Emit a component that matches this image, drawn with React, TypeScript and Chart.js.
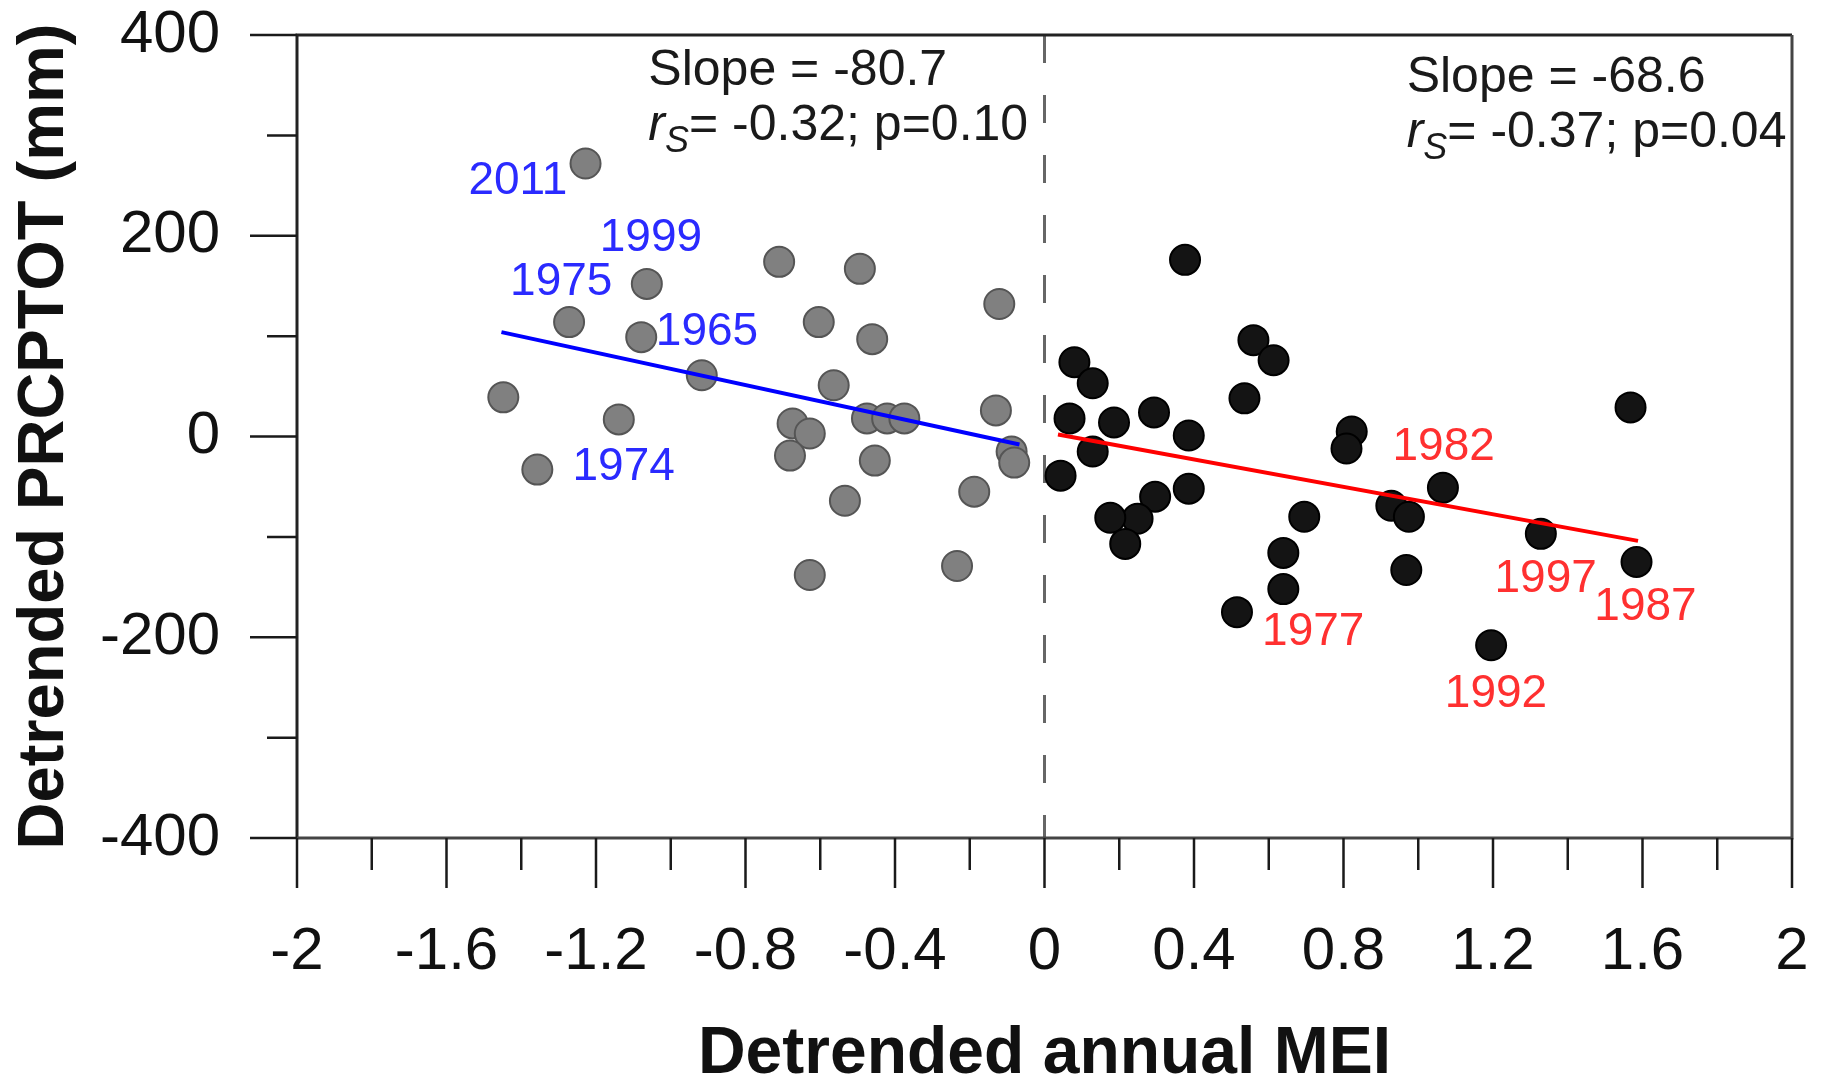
import React, { useEffect, useRef } from "react";
import { Chart, registerables } from "chart.js";

Chart.register(...registerables);

// ---- axis ticks ----
const X_TICKS = [-2, -1.6, -1.2, -0.8, -0.4, 0, 0.4, 0.8, 1.2, 1.6, 2];
const X_TICK_LABELS = ["-2", "-1.6", "-1.2", "-0.8", "-0.4", "0", "0.4", "0.8", "1.2", "1.6", "2"];
const X_MINOR_TICKS = [-1.8, -1.4, -1.0, -0.6, -0.2, 0.2, 0.6, 1.0, 1.4, 1.8];
const Y_TICKS = [-400, -200, 0, 200, 400];
const Y_TICK_LABELS = ["-400", "-200", "0", "200", "400"];
const Y_MINOR_TICKS = [-300, -100, 100, 300];

const X_TITLE = "Detrended annual MEI";
const Y_TITLE = "Detrended PRCPTOT (mm)";

// ---- La Niña side (grey points) ----
const NEG_MEI = [
  -1.228, -0.71, -0.494, -1.064, -0.121, -1.272, -0.604, -1.079, -0.461, -0.917,
  -0.564, -1.448, -0.13, -1.139, -0.475, -0.421, -0.375, -0.674, -0.628, -0.681,
  -0.454, -1.357, -0.088, -0.081, -0.534, -0.188, -0.628, -0.234,
];
const NEG_PRCP = [
  272, 174, 167, 152, 132, 114, 114, 99, 97, 61,
  51, 39, 26, 17, 18, 18, 18, 13, 3, -19,
  -24, -33, -15, -26, -64, -55, -138, -129,
];

// ---- El Niño side (black points) ----
const POS_MEI = [
  0.376, 0.559, 0.613, 0.08, 0.129, 0.535, 1.568, 0.293, 0.067, 0.186,
  0.386, 0.822, 0.808, 0.129, 0.043, 1.066, 0.386, 0.296, 0.249, 0.176,
  0.216, 0.695, 0.639, 0.639, 0.515, 0.928, 0.975, 0.968, 1.328, 1.584, 1.195,
];
const POS_PRCP = [
  176, 96, 76, 74, 53, 38, 29, 24, 18, 14,
  1, 5, -12, -15, -39, -51, -52, -60, -82, -81,
  -107, -80, -116, -152, -175, -69, -80, -133, -97, -125, -208,
];

// ---- regression lines ----
const NEG_FIT_MEI = [-1.453, -0.067];
const NEG_FIT_PRCP = [104, -8];
const POS_FIT_MEI = [0.036, 1.588];
const POS_FIT_PRCP = [2, -104];

const DIVIDER_MEI = 0;

// ---- year labels ----
const NEG_YEARS = ["2011", "1999", "1975", "1965", "1974"];
const NEG_YEAR_MEI = [-1.409, -1.053, -1.293, -0.903, -1.126];
const NEG_YEAR_PRCP = [254, 197, 154, 104, -31];
const POS_YEARS = ["1982", "1977", "1997", "1987", "1992"];
const POS_YEAR_MEI = [1.068, 0.719, 1.341, 1.608, 1.208];
const POS_YEAR_PRCP = [-11, -195, -142, -170, -257];

// ---- statistics text ----
const STAT_SLOPES = ["Slope = -80.7", "Slope = -68.6"];
const STAT_RS = ["= -0.32; p=0.10", "= -0.37; p=0.04"];
const STAT_MEI = [-1.06, 0.969];
const STAT_PRCP_LINE1 = [350, 343];
const STAT_PRCP_LINE2 = [295, 288];

const FONT = "'Liberation Sans', Arial, Helvetica, sans-serif";

const decorPlugin = {
  id: "decor",
  beforeDatasetsDraw(chart: any) {
    const { ctx, chartArea: a, scales } = chart;
    const px = scales.x.getPixelForValue(DIVIDER_MEI);
    ctx.save();
    ctx.strokeStyle = "#666666";
    ctx.lineWidth = 3;
    ctx.setLineDash([28, 32]);
    ctx.beginPath();
    ctx.moveTo(px, a.top);
    ctx.lineTo(px, a.bottom);
    ctx.stroke();
    ctx.restore();
  },
  afterDatasetsDraw(chart: any) {
    const { ctx, scales } = chart;
    const { x, y } = scales;
    ctx.save();
    ctx.textAlign = "center";
    ctx.textBaseline = "middle";
    ctx.font = `46px ${FONT}`;
    ctx.fillStyle = "#2a2aff";
    NEG_YEARS.forEach((t, i) => {
      ctx.fillText(t, x.getPixelForValue(NEG_YEAR_MEI[i]), y.getPixelForValue(NEG_YEAR_PRCP[i]));
    });
    ctx.fillStyle = "#ff3030";
    POS_YEARS.forEach((t, i) => {
      ctx.fillText(t, x.getPixelForValue(POS_YEAR_MEI[i]), y.getPixelForValue(POS_YEAR_PRCP[i]));
    });

    // stats
    ctx.textAlign = "left";
    ctx.textBaseline = "alphabetic";
    ctx.fillStyle = "#1a1a1a";
    STAT_SLOPES.forEach((t, i) => {
      const sx = x.getPixelForValue(STAT_MEI[i]);
      ctx.font = `50px ${FONT}`;
      ctx.fillText(t, sx, y.getPixelForValue(STAT_PRCP_LINE1[i]));
      const by = y.getPixelForValue(STAT_PRCP_LINE2[i]);
      ctx.font = `italic 50px ${FONT}`;
      ctx.fillText("r", sx, by);
      let cx = sx + ctx.measureText("r").width;
      ctx.font = `italic 36px ${FONT}`;
      ctx.fillText("S", cx, by + 12);
      cx += ctx.measureText("S").width;
      ctx.font = `50px ${FONT}`;
      ctx.fillText(STAT_RS[i], cx, by);
    });
    ctx.restore();
  },
  afterDraw(chart: any) {
    const { ctx, chartArea: a, scales } = chart;
    const { x, y } = scales;
    ctx.save();
    ctx.lineCap = "butt";
    // frame
    ctx.strokeStyle = "#222222";
    ctx.lineWidth = 3;
    ctx.beginPath();
    ctx.moveTo(a.left, a.bottom);
    ctx.lineTo(a.left, a.top);
    ctx.lineTo(a.right, a.top);
    ctx.stroke();
    ctx.strokeStyle = "#444444";
    ctx.beginPath();
    ctx.moveTo(a.right, a.top);
    ctx.lineTo(a.right, a.bottom);
    ctx.lineTo(a.left, a.bottom);
    ctx.stroke();
    // ticks
    ctx.strokeStyle = "#1a1a1a";
    ctx.lineWidth = 2.5;
    ctx.beginPath();
    X_TICKS.forEach((v) => {
      const p = x.getPixelForValue(v);
      ctx.moveTo(p, a.bottom);
      ctx.lineTo(p, a.bottom + 50);
    });
    X_MINOR_TICKS.forEach((v) => {
      const p = x.getPixelForValue(v);
      ctx.moveTo(p, a.bottom);
      ctx.lineTo(p, a.bottom + 32);
    });
    Y_TICKS.forEach((v) => {
      const p = y.getPixelForValue(v);
      ctx.moveTo(a.left, p);
      ctx.lineTo(a.left - 47, p);
    });
    Y_MINOR_TICKS.forEach((v) => {
      const p = y.getPixelForValue(v);
      ctx.moveTo(a.left, p);
      ctx.lineTo(a.left - 30, p);
    });
    ctx.stroke();
    ctx.restore();
  },
};

const zeroPad = (s: any) => {
  s.paddingLeft = 0;
  s.paddingRight = 0;
  s.paddingTop = 0;
  s.paddingBottom = 0;
};

export default function App() {
  const ref = useRef<HTMLCanvasElement | null>(null);

  useEffect(() => {
    if (!ref.current) return;
    const toPts = (xs: number[], ys: number[]) => xs.map((v, i) => ({ x: v, y: ys[i] }));
    const chart = new Chart(ref.current, {
      type: "scatter",
      data: {
        datasets: [
          {
            label: "fit-neg",
            data: toPts(NEG_FIT_MEI, NEG_FIT_PRCP),
            showLine: true,
            borderColor: "#0000ff",
            borderWidth: 4,
            pointRadius: 0,
          },
          {
            label: "fit-pos",
            data: toPts(POS_FIT_MEI, POS_FIT_PRCP),
            showLine: true,
            borderColor: "#ff0000",
            borderWidth: 4,
            pointRadius: 0,
          },
          {
            label: "La Niña",
            data: toPts(NEG_MEI, NEG_PRCP),
            backgroundColor: "#808080",
            borderColor: "#555555",
            borderWidth: 2,
            pointRadius: 15,
          },
          {
            label: "El Niño",
            data: toPts(POS_MEI, POS_PRCP),
            backgroundColor: "#141414",
            borderColor: "#000000",
            borderWidth: 2,
            pointRadius: 15,
          },
        ],
      },
      options: {
        responsive: false,
        animation: false,
        devicePixelRatio: 1,
        events: [],
        layout: { padding: { top: 35, right: 33, left: 0, bottom: 0 } },
        plugins: { legend: { display: false }, tooltip: { enabled: false } },
        scales: {
          x: {
            type: "linear",
            min: -2,
            max: 2,
            grid: { display: false, drawTicks: false },
            border: { display: false },
            afterBuildTicks: (s: any) => {
              s.ticks = X_TICKS.map((v) => ({ value: v }));
            },
            afterFit: (s: any) => {
              s.height = 243;
              zeroPad(s);
            },
            ticks: {
              padding: 78,
              maxRotation: 0,
              autoSkip: false,
              color: "#111111",
              font: { family: FONT, size: 60 },
              callback: (v: any, i: number) => X_TICK_LABELS[i],
            },
            title: {
              display: true,
              text: X_TITLE,
              color: "#111111",
              font: { family: FONT, size: 66, weight: "bold", lineHeight: 0.8 },
              padding: 0,
            },
          },
          y: {
            type: "linear",
            min: -400,
            max: 400,
            grid: { display: false, drawTicks: false },
            border: { display: false },
            afterBuildTicks: (s: any) => {
              s.ticks = Y_TICKS.map((v) => ({ value: v }));
            },
            afterFit: (s: any) => {
              s.width = 297;
              zeroPad(s);
            },
            ticks: {
              padding: 77,
              autoSkip: false,
              color: "#111111",
              font: { family: FONT, size: 60, lineHeight: 1 },
              callback: (v: any, i: number) => Y_TICK_LABELS[i],
            },
            title: {
              display: true,
              text: Y_TITLE,
              color: "#111111",
              font: { family: FONT, size: 65, weight: "bold", lineHeight: 1 },
              padding: { top: 13, bottom: 0 },
            },
          },
        },
      },
      plugins: [decorPlugin],
    } as any);
    return () => chart.destroy();
  }, []);

  return (
    <div style={{ position: "fixed", left: 0, top: 0, width: 1825, height: 1081, background: "#ffffff" }}>
      <canvas ref={ref} width={1825} height={1081} style={{ display: "block" }} />
    </div>
  );
}
